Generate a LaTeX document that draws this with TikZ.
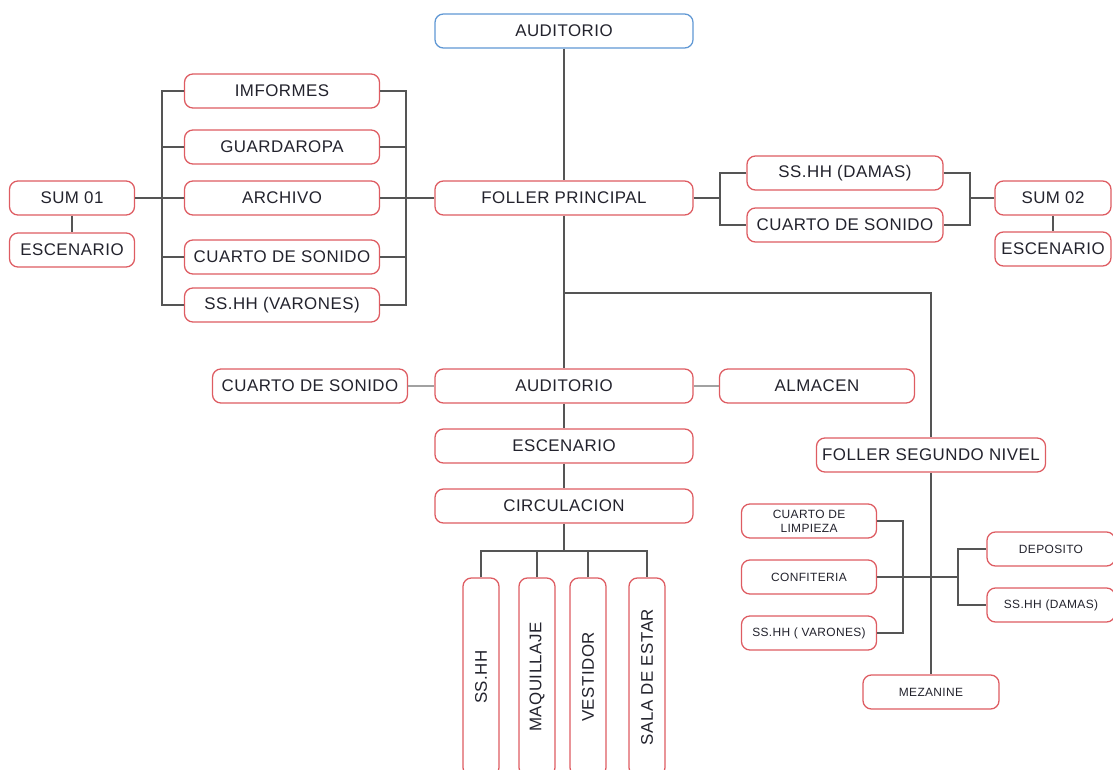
\documentclass[tikz,border=0pt]{standalone}
\usepackage{fontspec}
\setmainfont{Liberation Sans}
\newfontfamily\roomfamily[LetterSpace=3]{Liberation Sans}
\definecolor{RoomRed}{RGB}{222,92,98}
\definecolor{TopBlue}{RGB}{96,152,212}
\definecolor{Wire}{RGB}{85,85,85}
\definecolor{Ink}{RGB}{35,35,45}
\tikzset{
  rm/.style={draw=RoomRed, line width=0.9pt, rounded corners=6pt, fill=white, text=Ink, inner sep=1pt, minimum height=0.85cm, font=\roomfamily\fontsize{12}{14}\selectfont},
  sm/.style={rm, font=\roomfamily\fontsize{8.5}{10}\selectfont, align=center},
  vt/.style={rm, rotate=90, minimum width=4.95cm, minimum height=0.9cm},
  wire/.style={draw=Wire, line width=0.8pt},
  soft/.style={draw=Wire!55, line width=1.6pt}
}

\begin{document}
\begin{tikzpicture}[x=0.025cm, y=-0.025cm]
\useasboundingbox (0,0) rectangle (1113,770);
% primer nivel
\node[rm, draw=TopBlue, minimum width=6.45cm] (aud) at (564,31) {AUDITORIO};
\node[rm, minimum width=6.45cm] (foller) at (564,198) {FOLLER PRINCIPAL};
\node[rm, minimum width=4.875cm] (imf) at (282,91) {IMFORMES};
\node[rm, minimum width=4.875cm] (guarda) at (282,147) {GUARDAROPA};
\node[rm, minimum width=4.875cm] (archivo) at (282,198) {ARCHIVO};
\node[rm, minimum width=4.875cm] (sonL) at (282,257) {CUARTO DE SONIDO};
\node[rm, minimum width=4.875cm] (varL) at (282,305) {SS.HH (VARONES)};
\node[rm, minimum width=3.125cm] (sum1) at (72,198) {SUM 01};
\node[rm, minimum width=3.125cm] (esc1) at (72,250) {ESCENARIO};
\node[rm, minimum width=4.9cm] (damas) at (845,173) {SS.HH (DAMAS)};
\node[rm, minimum width=4.9cm] (sonR) at (845,225) {CUARTO DE SONIDO};
\node[rm, minimum width=2.9cm] (sum2) at (1053,198) {SUM 02};
\node[rm, minimum width=2.9cm] (esc2) at (1053,249) {ESCENARIO};
% sala
\node[rm, minimum width=4.875cm] (sonC) at (310,386) {CUARTO DE SONIDO};
\node[rm, minimum width=6.45cm] (aud2) at (564,386) {AUDITORIO};
\node[rm, minimum width=4.875cm] (alm) at (817,386) {ALMACEN};
\node[rm, minimum width=6.45cm] (escC) at (564,446) {ESCENARIO};
\node[rm, minimum width=6.45cm] (circ) at (564,506) {CIRCULACION};
\node[vt] (ssv) at (481,677) {SS.HH};
\node[vt] (maq) at (537,677) {MAQUILLAJE};
\node[vt] (vest) at (588,677) {VESTIDOR};
\node[vt] (sala) at (647,677) {SALA DE ESTAR};
% segundo nivel
\node[rm, minimum width=5.725cm] (foller2) at (931,455) {FOLLER SEGUNDO NIVEL};
\node[sm, minimum width=3.375cm] (limp) at (809,521) {CUARTO DE\\LIMPIEZA};
\node[sm, minimum width=3.375cm] (conf) at (809,577) {CONFITERIA};
\node[sm, minimum width=3.375cm] (varS) at (809,633) {SS.HH ( VARONES)};
\node[sm, minimum width=3.2cm] (dep) at (1051,549) {DEPOSITO};
\node[sm, minimum width=3.2cm] (damS) at (1051,605) {SS.HH (DAMAS)};
\node[sm, minimum width=3.4cm] (mez) at (931,692) {MEZANINE};

\coordinate (lbus) at (162,198);
\coordinate (rbus) at (406,198);
\coordinate (dbus) at (720,198);
\coordinate (sbus) at (970,198);
\coordinate (fork) at (564,293);
\coordinate (vbus) at (564,551);
\coordinate (lb3) at (903,577);
\coordinate (rb3) at (958,577);

\draw[wire] (aud) -- (foller);
\draw[wire] (sum1) -- (lbus);
\draw[wire] (imf.west) -| (lbus) |- (varL.west);
\draw[wire] (guarda.west) -- (guarda.west -| lbus);
\draw[wire] (sonL.west) -- (sonL.west -| lbus);
\draw[wire] (lbus) -- (archivo.west);
\draw[wire] (imf.east) -| (rbus) |- (varL.east);
\draw[wire] (guarda.east) -- (guarda.east -| rbus);
\draw[wire] (sonL.east) -- (sonL.east -| rbus);
\draw[wire] (archivo.east) -- (foller.west);
\draw[wire] (sum1) -- (esc1);
\draw[wire] (foller.east) -- (dbus);
\draw[wire] (damas.west) -| (dbus) |- (sonR.west);
\draw[wire] (damas.east) -| (sbus) |- (sonR.east);
\draw[wire] (sbus) -- (sum2.west);
\draw[wire] (sum2) -- (esc2);

\draw[wire] (foller) -- (aud2);
\draw[wire] (fork) -| (foller2.north);
\draw[soft] (sonC) -- (aud2);
\draw[soft] (aud2) -- (alm);
\draw[wire] (aud2) -- (escC);
\draw[wire] (escC) -- (circ);
\draw[wire] (circ) -- (vbus);
\draw[wire] (ssv.east) |- (vbus) -| (sala.east);
\draw[wire] (maq.east) -- (maq.east |- vbus);
\draw[wire] (vest.east) -- (vest.east |- vbus);

\draw[wire] (foller2) -- (mez);
\draw[wire] (limp.east) -| (lb3) |- (varS.east);
\draw[wire] (conf) -- (rb3);
\draw[wire] (dep.west) -| (rb3) |- (damS.west);
\end{tikzpicture}
\end{document}
